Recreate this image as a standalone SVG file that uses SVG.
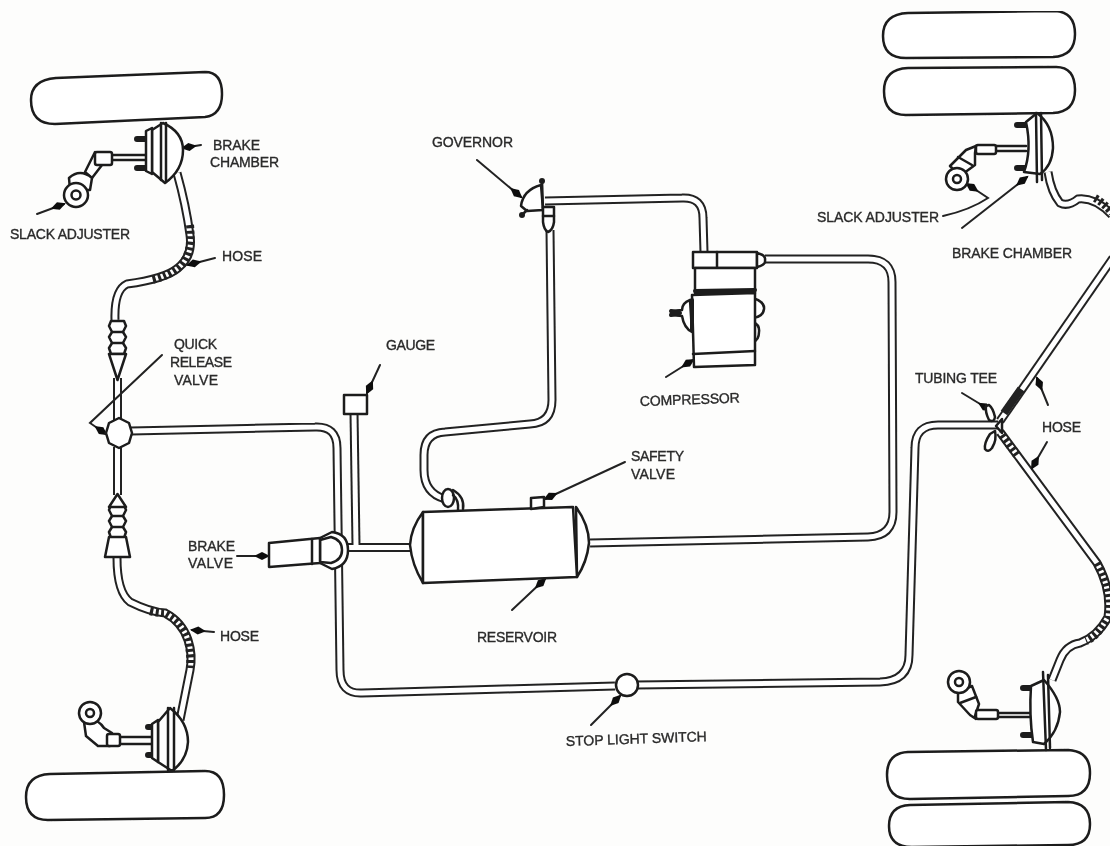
<svg xmlns="http://www.w3.org/2000/svg" xmlns:xlink="http://www.w3.org/1999/xlink" width="1110" height="846" viewBox="0 0 1110 846">
<style>
text{font-family:"Liberation Sans",Arial,sans-serif;font-size:14px;fill:#2a2a2a;stroke:#2a2a2a;stroke-width:.35}
.s{fill:#fff;stroke:#1c1c1c;stroke-width:2.5;stroke-linejoin:round}
.n{fill:none;stroke:#1c1c1c;stroke-width:2.5;stroke-linejoin:round;stroke-linecap:round}
.b{fill:none;stroke:#1c1c1c;stroke-width:6;stroke-linecap:round}
.to{fill:none;stroke:#222;stroke-width:9}
.ti{fill:none;stroke:#fff;stroke-width:5}
.h{fill:none;stroke:#222;stroke-width:8;stroke-dasharray:3 2.500}
.p{fill:none;stroke:#222;stroke-width:2;marker-end:url(#a);stroke-linecap:round}
</style>
<defs>
<marker id="a" markerUnits="userSpaceOnUse" markerWidth="22" markerHeight="12" refX="14" refY="6" orient="auto"><path d="M0 6L8 2L16 6L8 10Z" fill="#111"/></marker>
<filter id="b" x="0" y="0" width="100%" height="100%"><feGaussianBlur stdDeviation=".6"/></filter>
<path id="t1" d="M131 431L315 427Q337 426 337 448L340 670Q340 694 362 693L615 686"/>
<path id="t2" d="M636 685L880 682Q909 681 909 655L915 448Q915 425 938 425L998 425"/>
<path id="t3" d="M590 543L868 537Q893 536 893 512L892 282Q892 259 868 259L765 259"/>
<path id="t4" d="M545 201L682 198Q703 197 703 218L704 252"/>
<path id="t5" d="M550 230L552 400Q552 423 530 424L445 432Q424 433 424 455L424 470Q424 493 445 499"/>
<path id="t6" d="M354 413L356 545"/>
<path id="t7" d="M345 547.500L412 547.500"/>
<path id="t8" d="M117.500 378L117.500 420M117.500 447L117.500 495"/>
<path id="t9" d="M177 173Q186 205 190 235Q193 256 178 268Q165 279 127 284Q114 290 115 320"/>
<path id="t10" d="M117 558Q117 592 130 602Q150 612 165 613Q182 622 188 640Q193 655 190 670L180 720"/>
<path id="t11" d="M1048 172Q1051 192 1060 203Q1068 207 1078 199Q1095 197 1112 215"/>
<path id="t12" d="M1000 421L1113 258"/>
<path id="t13" d="M1000 432L1097 563Q1112 590 1108 617Q1098 636 1080 643Q1066 645 1060 660L1052 680"/>
<path id="lobes" d="M2 0H15L17 5L14 11L17 16L14 22L17 27L15 33H2L0 27L3 22L0 16L3 11L0 5Z"/>
</defs>
<rect width="1110" height="846" fill="#fdfdfc"/>
<g filter="url(#b)">
<g id="connectors">
<g class="to"><use xlink:href="#t1"/><use xlink:href="#t2"/><use xlink:href="#t3"/><use xlink:href="#t4"/><use xlink:href="#t5"/><use xlink:href="#t6"/><use xlink:href="#t7"/><use xlink:href="#t8"/><use xlink:href="#t9"/><use xlink:href="#t10"/><use xlink:href="#t11"/><use xlink:href="#t12"/><use xlink:href="#t13"/></g>
<g class="ti"><use xlink:href="#t1"/><use xlink:href="#t2"/><use xlink:href="#t3"/><use xlink:href="#t4"/><use xlink:href="#t5"/><use xlink:href="#t6"/><use xlink:href="#t7"/><use xlink:href="#t8"/><use xlink:href="#t9"/><use xlink:href="#t10"/><use xlink:href="#t11"/><use xlink:href="#t12"/><use xlink:href="#t13"/></g>
<path class="h" d="M190 225Q193 256 178 268Q168 276 152 280"/>
<path class="h" d="M150 611Q158 613 165 613Q182 622 188 640Q191 655 190 668"/>
<path class="h" d="M1095 198Q1104 203 1112 213"/>
<path class="h" d="M1097 563Q1112 590 1108 617Q1098 636 1086 641"/>
<path class="to" style="stroke-width:8" d="M1004 413L1021 389"/>
<path class="h" d="M1002 435L1018 457"/>
<path class="p" d="M162 355L90 423L106 434"/>
<path class="p" d="M37 214L64 204"/>
<path class="p" d="M201 145L183 148"/>
<path class="p" d="M215 258L188 265"/>
<path class="p" d="M214 632L192 630"/>
<path class="p" d="M380 365L367 393"/>
<path class="p" d="M477 160L521 197"/>
<path class="p" d="M666 377L693 360"/>
<path class="p" d="M625 462L545 499"/>
<path class="p" d="M512 610L545 579"/>
<path class="p" d="M591 725L620 696"/>
<path class="p" d="M237 556L268 556"/>
<path class="p" d="M962 393L990 410"/>
<path class="p" d="M1048 405L1037 378"/>
<path class="p" d="M1047 442L1032 468"/>
<path class="p" d="M943 216Q970 210 988 198L967 184"/>
<path class="p" d="M962 228L1027 177"/>
</g>

<g id="tire-left-top"><path class="s" d="M56 78L205 72Q222 72 222 94Q222 115 205 117L55 124Q31 124 31 100Q31 80 56 78Z"/></g>
<g id="tire-left-bottom"><path class="s" d="M50 774L205 771Q224 771 224 795Q224 818 205 818L48 820Q26 820 26 797Q26 775 50 774Z"/></g>
<g id="tire-right-1"><path class="s" d="M908 13L1055 11Q1075 12 1075 34Q1075 56 1053 57L906 58Q883 58 883 36Q883 14 908 13Z"/></g>
<g id="tire-right-2"><path class="s" d="M908 68L1056 67Q1075 67 1075 90Q1075 112 1053 113L906 115Q884 115 884 91Q884 69 908 68Z"/></g>
<g id="tire-right-3"><path class="s" d="M908 752L1068 750Q1090 751 1090 773Q1090 796 1068 796L910 799Q887 799 887 775Q887 753 908 752Z"/></g>
<g id="tire-right-4"><path class="s" d="M910 805L1068 802Q1090 803 1090 824Q1090 845 1068 845L912 847Q889 847 889 826Q889 806 910 805Z"/></g>

<g id="brake-chamber-left-top">
<path class="n" d="M112 155H146M112 160H146"/>
<path class="b" d="M137 139H146M137 168H146"/>
<path class="s" d="M163 123Q183 132 183 150Q183 170 165 183L152 172L152 130Z"/>
<path class="s" d="M152 128L146 131L146 171L152 174Z"/>
<path class="n" d="M161 123L161 180M166 123L166 182"/>
<path class="s" d="M95 152L85 172L92 178L102 165Z"/>
<rect class="s" x="95" y="152" width="17" height="13" rx="2"/>
<path class="s" d="M69 178Q80 168 92 178L90 190L70 190Z"/>
<circle class="s" cx="76" cy="195" r="12"/><circle class="s" cx="76" cy="195" r="4.500"/>
</g>
<g id="brake-chamber-left-bottom">
<path class="n" d="M120 737H152M120 744H152"/>
<path class="b" d="M148 727H156M148 755H156"/>
<path class="s" d="M170 708Q188 722 188 742Q187 760 172 771L158 762L158 722Z"/>
<path class="s" d="M158 720L152 724L152 758L158 762Z"/>
<path class="n" d="M168 708L168 770M174 708L174 770"/>
<path class="s" d="M84 722Q96 716 104 728L112 733L110 746L98 746L86 736Z"/>
<rect class="s" x="107" y="734" width="13" height="12" rx="2"/>
<circle class="s" cx="90" cy="713" r="11"/><circle class="s" cx="90" cy="713" r="4"/>
</g>
<g id="brake-chamber-right-top">
<path class="n" d="M996 146H1026M996 151H1026"/>
<path class="b" d="M1017 125H1027M1017 168H1025"/>
<path class="s" d="M1037 113Q1053 125 1053 148Q1052 166 1040 174L1024 172Q1032 150 1026 122Z"/>
<path class="n" d="M1036 113L1037 182M1041 113L1042 180"/>
<path class="s" d="M976 146L966 150L950 166L960 176L975 165L975 153Z"/>
<path class="n" d="M958 157L972 165"/>
<rect class="s" x="976" y="145" width="20" height="9" rx="2"/>
<circle class="s" cx="957" cy="179" r="11"/><circle class="s" cx="957" cy="179" r="4"/>
</g>
<g id="brake-chamber-right-bottom">
<path class="n" d="M998 713H1030M998 717H1030"/>
<path class="b" d="M1023 688H1032M1023 735H1032"/>
<path class="s" d="M1044 680Q1060 698 1060 712Q1058 732 1044 744L1033 742Q1029 715 1031 686Z"/>
<path class="n" d="M1043 672L1046 750M1048 675L1050 748"/>
<path class="s" d="M958 692L972 686L979 704L975 716L982 712L976 719L970 715L958 702Z"/>
<path class="n" d="M960 703L976 697"/>
<rect class="s" x="976" y="710" width="22" height="9" rx="2"/>
<circle class="s" cx="959" cy="682" r="11"/><circle class="s" cx="959" cy="682" r="4"/>
</g>

<g id="quick-release-valve">
<use xlink:href="#lobes" class="s" x="109" y="321"/>
<path class="n" d="M112 332H123M112 343H123"/>
<path class="s" d="M109 354H126L117.500 380Z"/>
<path class="s" d="M119 418L129 423L132 433L129 443L119 448L109 443L106 433L109 423Z"/>
</g>
<g id="lower-hose-fitting">
<use xlink:href="#lobes" class="s" x="109" y="505"/>
<path class="n" d="M112 516H123M112 527H123"/>
<path class="s" d="M117.500 494L126 507H109Z"/>
<path class="s" d="M109 537H126L130 557H105Z"/>
</g>
<g id="brake-valve">
<path class="s" d="M320 538L332 532Q348 534 348 550Q348 566 332 569L320 563Z"/>
<path class="s" d="M320 540L331 537Q342 540 342 550Q342 560 331 563L320 562Z"/>
<path class="s" d="M269 543L320 538L320 563L269 567Z"/>
<path class="n" d="M312 539L312 564"/>
</g>
<g id="gauge"><rect class="s" x="344" y="395" width="23" height="19"/></g>
<g id="governor">
<path class="s" d="M541 185Q523 190 521 206L527 211L543 210Z"/>
<path class="n" d="M542 181L543 210M522 215L527 210"/>
<circle cx="542" cy="181" r="3" fill="#1c1c1c"/><circle cx="522" cy="215" r="3" fill="#1c1c1c"/>
<path class="s" d="M543 207H554L554 222Q553 230 548 232Q544 230 543 222Z"/>
<path class="n" d="M543 216H554"/>
</g>
<g id="compressor">
<path class="s" d="M690 300Q682 303 682 310L671 311L671 315L682 316Q684 328 692 332Z"/>
<path class="n" d="M671 311L680 313L671 315" style="stroke-width:4"/>
<path class="s" d="M753 298Q765 302 764 309Q763 317 753 318ZM753 322Q760 325 759 332Q759 340 753 342Z"/>
<rect class="s" x="693" y="252" width="64" height="16"/>
<path class="n" d="M717 252V268"/>
<path class="s" d="M757 253Q766 255 765 260Q766 265 757 267Z"/>
<rect class="s" x="695" y="268" width="60" height="25"/>
<path class="s" d="M692 295L755 293L755 365L694 367Z"/>
<path class="n" d="M693 354L755 351"/><path class="n" d="M695 291L755 290" style="stroke-width:4"/>
<path class="n" d="M692 300L692 330" style="stroke-width:4"/>
</g>
<g id="reservoir">
<path class="s" d="M423 512Q411 528 410 545Q412 565 423 583ZM576 507Q589 525 589 543Q587 562 577 577Z"/>
<path class="s" d="M423 512L573 507L577 577L423 583Z"/>
<path class="s" d="M531 509L531 498L544 497L544 507Z"/>
<ellipse class="s" cx="448" cy="498" rx="6" ry="9"/>
<path class="n" d="M453 490Q465 497 463 509M453 495Q459 500 458 510"/>
</g>
<g id="stop-light-switch"><circle class="s" cx="627" cy="685" r="11"/></g>
<g id="tubing-tee">
<path class="s" d="M986 406Q985 412 989 420Q994 423 995 417Q993 408 989 405ZM985 449Q984 443 990 434L995 431Q997 440 992 448Q988 453 985 449Z"/>
<path class="s" d="M996 426L1002 419L1002 433Z"/>
</g>

<g id="labels">
<text x="213" y="150" textLength="47">BRAKE</text>
<text x="210" y="167" textLength="69">CHAMBER</text>
<text x="10" y="239" textLength="120">SLACK ADJUSTER</text>
<text x="222" y="261" textLength="40">HOSE</text>
<text x="174" y="349" textLength="43">QUICK</text>
<text x="170" y="367" textLength="62">RELEASE</text>
<text x="174" y="385" textLength="44">VALVE</text>
<text x="386" y="350" textLength="49">GAUGE</text>
<text x="432" y="147" textLength="81">GOVERNOR</text>
<text transform="rotate(-2 640 405)" x="640" y="406" textLength="100">COMPRESSOR</text>
<text x="631" y="461" textLength="53">SAFETY</text>
<text x="631" y="479" textLength="44">VALVE</text>
<text x="188" y="551" textLength="47">BRAKE</text>
<text x="188" y="568" textLength="45">VALVE</text>
<text x="477" y="642" textLength="80">RESERVOIR</text>
<text transform="rotate(-2 566 745)" x="566" y="746" textLength="141">STOP LIGHT SWITCH</text>
<text x="220" y="641" textLength="39">HOSE</text>
<text x="817" y="222" textLength="122">SLACK ADJUSTER</text>
<text x="952" y="258" textLength="120">BRAKE CHAMBER</text>
<text x="915" y="383" textLength="82">TUBING TEE</text>
<text x="1042" y="432" textLength="39">HOSE</text>
</g>
</g>
</svg>
